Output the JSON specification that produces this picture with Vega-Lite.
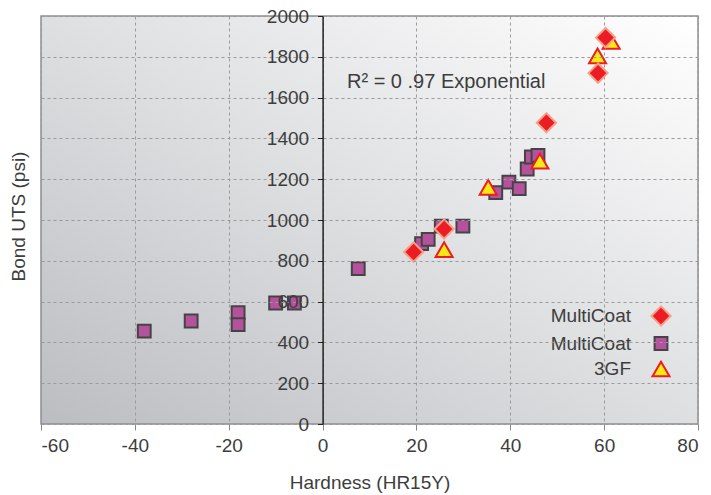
{
  "$schema": "https://vega.github.io/schema/vega-lite/v6.json",
  "width": 657,
  "height": 408,
  "autosize": {"type": "none"},
  "padding": {"left": 41, "top": 16, "right": 13, "bottom": 71},
  "background": "white",
  "config": {
    "font": "Liberation Sans",
    "view": {
      "fill": {"gradient": "linear", "x1": 0, "y1": 1, "x2": 1, "y2": 0,
        "stops": [{"offset": 0, "color": "#bcbdc1"}, {"offset": 0.5, "color": "#dedfe1"}, {"offset": 1, "color": "#ffffff"}]},
      "stroke": "#8f8f8f",
      "strokeWidth": 1.5
    },
    "axis": {
      "labelFont": "Liberation Sans", "labelFontSize": 19, "labelColor": "#3d3d3d",
      "titleFont": "Liberation Sans", "titleFontSize": 19, "titleFontWeight": "normal", "titleColor": "#3d3d3d",
      "gridColor": "#9a9a9a", "gridDash": [3, 3], "gridWidth": 1, "gridOpacity": 1
    }
  },
  "layer": [
    {
      "data": {
        "values": [
          {"series": "MultiCoat 2", "hardness": -38, "uts": 455},
          {"series": "MultiCoat 2", "hardness": -28, "uts": 505},
          {"series": "MultiCoat 2", "hardness": -18, "uts": 546},
          {"series": "MultiCoat 2", "hardness": -18, "uts": 487},
          {"series": "MultiCoat 2", "hardness": -10, "uts": 593},
          {"series": "MultiCoat 2", "hardness": -6, "uts": 593},
          {"series": "MultiCoat 2", "hardness": 7.6, "uts": 762},
          {"series": "MultiCoat 2", "hardness": 21.1, "uts": 884},
          {"series": "MultiCoat 2", "hardness": 22.5, "uts": 905},
          {"series": "MultiCoat 2", "hardness": 25.3, "uts": 970},
          {"series": "MultiCoat 2", "hardness": 29.9, "uts": 970},
          {"series": "MultiCoat 2", "hardness": 36.9, "uts": 1134},
          {"series": "MultiCoat 2", "hardness": 39.7, "uts": 1186},
          {"series": "MultiCoat 2", "hardness": 41.9, "uts": 1154},
          {"series": "MultiCoat 2", "hardness": 43.6, "uts": 1250},
          {"series": "MultiCoat 2", "hardness": 44.5, "uts": 1309},
          {"series": "MultiCoat 2", "hardness": 45.9, "uts": 1317},
          {"series": "3GF", "hardness": 25.9, "uts": 855},
          {"series": "3GF", "hardness": 35.3, "uts": 1160},
          {"series": "3GF", "hardness": 46.3, "uts": 1288},
          {"series": "3GF", "hardness": 58.6, "uts": 1805},
          {"series": "3GF", "hardness": 61.5, "uts": 1875},
          {"series": "MultiCoat 1", "hardness": 19.4, "uts": 843},
          {"series": "MultiCoat 1", "hardness": 25.9, "uts": 956},
          {"series": "MultiCoat 1", "hardness": 47.7, "uts": 1477},
          {"series": "MultiCoat 1", "hardness": 58.7, "uts": 1720},
          {"series": "MultiCoat 1", "hardness": 60.3, "uts": 1894}
        ]
      },
      "mark": {"type": "point", "filled": true, "strokeWidth": 2, "opacity": 1, "fillOpacity": 1, "strokeOpacity": 1},
      "encoding": {
        "x": {
          "field": "hardness", "type": "quantitative",
          "scale": {"domain": [-60, 80], "nice": false, "zero": false},
          "axis": {
            "title": "Hardness (HR15Y)",
            "values": [-60, -40, -20, 0, 20, 40, 60, 80],
            "labelExpr": "'' + datum.value",
            "domain": false, "tickColor": "#888888", "tickSize": 6,
            "labelPadding": 6, "titlePadding": 18, "grid": true
          }
        },
        "y": {
          "field": "uts", "type": "quantitative",
          "scale": {"domain": [0, 2000], "nice": false},
          "axis": {
            "title": "Bond UTS (psi)",
            "values": [0, 200, 400, 600, 800, 1000, 1200, 1400, 1600, 1800, 2000],
            "labelExpr": "'' + datum.value",
            "offset": -281.6,
            "domainColor": "#222222", "domainWidth": 1.5,
            "tickColor": "#222222", "tickSize": 5, "labelPadding": 9,
            "grid": true, "zindex": 1,
            "titleX": -294, "titleY": 200, "titleAngle": -90
          }
        },
        "shape": {
          "field": "series", "type": "nominal",
          "scale": {"domain": ["MultiCoat 1", "MultiCoat 2", "3GF"], "range": ["diamond", "square", "triangle-up"]},
          "legend": {
            "title": null, "orient": "none", "legendX": 609, "legendY": 289,
            "labelExpr": "datum.label == '3GF' ? '3GF' : 'MultiCoat'",
            "labelAlign": "right", "labelOffset": -41,
            "labelFont": "Liberation Sans", "labelFontSize": 19, "labelColor": "#3d3d3d",
            "rowPadding": 3, "symbolStrokeWidth": 2, "padding": 0
          }
        },
        "fill": {
          "field": "series", "type": "nominal",
          "scale": {"domain": ["MultiCoat 1", "MultiCoat 2", "3GF"], "range": ["#ec1c24", "#b5529e", "#f7ea14"]}
        },
        "stroke": {
          "field": "series", "type": "nominal",
          "scale": {"domain": ["MultiCoat 1", "MultiCoat 2", "3GF"], "range": ["#f6a08a", "#444444", "#ec1c24"]}
        },
        "size": {
          "field": "series", "type": "nominal",
          "scale": {"type": "ordinal", "domain": ["MultiCoat 1", "MultiCoat 2", "3GF"], "range": [370, 165, 290]}
        }
      }
    },
    {
      "data": {"values": [{"note": "R² = 0 .97 Exponential"}]},
      "mark": {"type": "text", "align": "left", "baseline": "alphabetic", "fontSize": 20, "font": "Liberation Sans", "color": "#3d3d3d"},
      "encoding": {
        "x": {"datum": 5.2},
        "y": {"datum": 1646},
        "text": {"field": "note", "type": "nominal"}
      }
    }
  ]
}
